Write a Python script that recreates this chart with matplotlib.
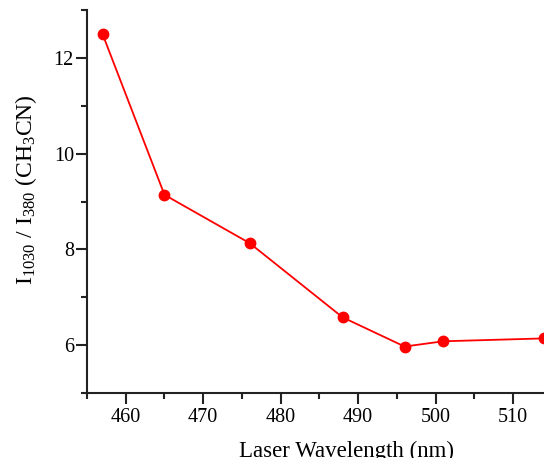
import matplotlib
matplotlib.use('Agg')
import matplotlib.pyplot as plt
from matplotlib.ticker import MultipleLocator

plt.rcParams['font.family'] = ['Liberation Serif', 'DejaVu Serif']
plt.rcParams['mathtext.fontset'] = 'custom'
plt.rcParams['mathtext.rm'] = 'Liberation Serif'
plt.rcParams['mathtext.it'] = 'Liberation Serif:italic'

# laser wavelength (nm) vs intensity ratio
wavelength = [457, 465, 476, 488, 496, 501, 514]
ratio = [12.5, 9.14, 8.13, 6.58, 5.97, 6.08, 6.14]

fig = plt.figure(figsize=(5.44, 4.58), dpi=100)
ax = fig.add_axes([0.16, 0.142, 0.84, 0.836])

ax.plot(wavelength, ratio, color='#ff0000', lw=1.3, marker='o', ms=7.5,
        markeredgecolor='#ff0000', markerfacecolor='#ff0000')

ax.set_xlim(455, 514)
ax.set_ylim(5, 13)
ax.xaxis.set_major_locator(MultipleLocator(10))
ax.xaxis.set_minor_locator(MultipleLocator(5))
ax.yaxis.set_major_locator(MultipleLocator(2))
ax.yaxis.set_minor_locator(MultipleLocator(1))

for s in ['top', 'right']:
    ax.spines[s].set_visible(False)
for s in ['left', 'bottom']:
    ax.spines[s].set_linewidth(1.5)
    ax.spines[s].set_color('#222222')

ax.tick_params(which='major', direction='out', length=8, width=1.5,
               color='#222222', labelsize=14.5)
ax.tick_params(which='minor', direction='out', length=4, width=1.5,
               color='#222222')
ax.tick_params(axis='x', which='major', pad=3)
ax.tick_params(axis='y', which='major', pad=1.5)

ax.set_xlabel('Laser Wavelength (nm)', fontsize=16.5)
ax.xaxis.set_label_coords(0.567, -0.126)
ax.set_ylabel(r'I$_{1030}$ / I$_{380}$ (CH$_3$CN)', fontsize=17)
ax.yaxis.set_label_coords(-0.105, 0.53)

fig.savefig('out.png', dpi=100)
